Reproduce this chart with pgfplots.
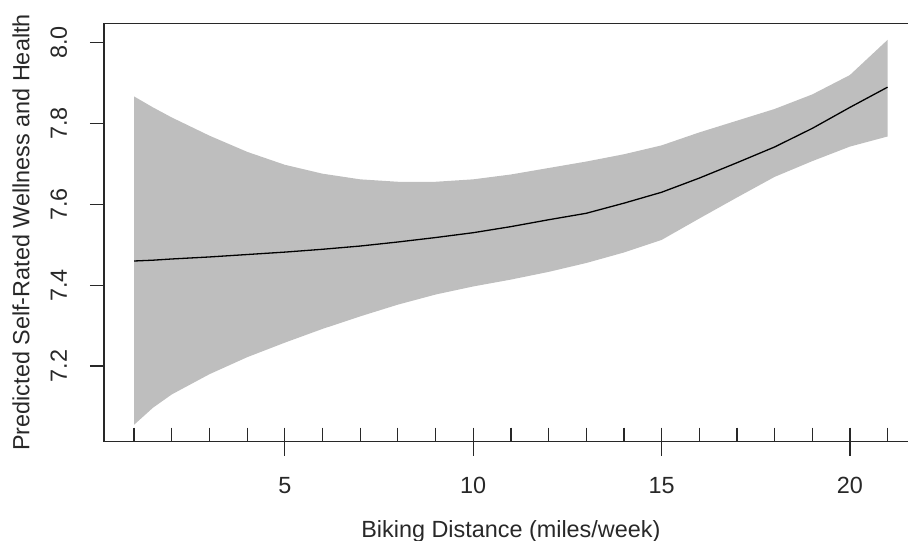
\documentclass[border=0pt]{standalone}
\usepackage{fontspec}
\setmainfont{Liberation Sans}
\usepackage{pgfplots}
\usepackage{pgfplotstable}
\pgfplotsset{compat=1.18}

\definecolor{bandgray}{RGB}{190,190,190}
\definecolor{axgray}{RGB}{40,40,40}

% predicted value
\pgfplotstableread{
x    fit
1    7.460
1.5  7.462
2    7.465
3    7.470
4    7.476
5    7.482
6    7.489
7    7.497
8    7.507
9    7.518
10   7.530
11   7.545
12   7.562
13   7.578
14   7.603
15   7.630
16   7.665
17   7.703
18   7.742
19   7.788
20   7.840
21   7.890
}\fitdata

% confidence band outline: upper bound left to right, lower bound right to left
\pgfplotstableread{
x    y
1    7.867
1.5  7.840
2    7.815
3    7.770
4    7.730
5    7.698
6    7.676
7    7.662
8    7.656
9    7.656
10   7.662
11   7.674
12   7.690
13   7.706
14   7.724
15   7.746
16   7.778
17   7.807
18   7.836
19   7.872
20   7.920
21   8.007
21   7.768
20   7.743
19   7.707
18   7.668
17   7.617
16   7.565
15   7.512
14   7.481
13   7.455
12   7.433
11   7.414
10   7.397
9    7.377
8    7.352
7    7.323
6    7.292
5    7.258
4    7.222
3    7.180
2    7.130
1.5  7.097
1    7.055
}\banddata

% rug: observed distances
\pgfplotstableread{
x    y
1    7.013
2    7.013
3    7.013
4    7.013
5    7.013
6    7.013
7    7.013
8    7.013
9    7.013
10   7.013
11   7.013
12   7.013
13   7.013
14   7.013
15   7.013
16   7.013
17   7.013
18   7.013
19   7.013
20   7.013
21   7.013
}\rugdata

\begin{document}
\fontsize{23.4}{28}\selectfont
\begin{tikzpicture}
\begin{axis}[
    scale only axis,
    width=813.7pt,
    height=418.4pt,
    xmin=0.2, xmax=21.8,
    ymin=7.013, ymax=8.048,
    clip=false,
    axis on top,
    axis line style={line width=1.3pt, color=axgray},
    xtick={5,10,15,20},
    ytick={7.2,7.4,7.6,7.8,8.0},
    tick align=outside,
    xtick pos=bottom,
    ytick pos=left,
    major tick length=14pt,
    tick style={line width=1.3pt, color=axgray},
    /pgf/number format/assume math mode=true,
    tick label style={font=\fontsize{23.4}{28}\selectfont, text=axgray},
    label style={font=\fontsize{23.4}{28}\selectfont, text=axgray},
    xticklabel style={anchor=base, yshift=-38pt},
    yticklabel style={anchor=base, rotate=90, yshift=23pt},
    yticklabel={\pgfmathprintnumber[fixed, fixed zerofill, precision=1]{\tick}},
    xlabel={Biking Distance (miles/week)},
    ylabel={Predicted Self-Rated Wellness and Health},
    xlabel style={at={([yshift=-95.3pt]axis description cs:0.5,0)}, anchor=base},
    ylabel style={at={([xshift=-74.5pt]axis description cs:0,0.5)}, anchor=base},
]
\coordinate (SW) at (rel axis cs:0,0);
\addplot[fill=bandgray, draw=none] table[x=x, y=y] {\banddata} -- cycle;
\addplot[black, line width=1.3pt] table[x=x, y=fit] {\fitdata};
\addplot[only marks, mark=|, mark size=7pt,
    mark options={line width=1.3pt, draw=axgray, yshift=7pt}] table[x=x, y=y] {\rugdata};
% y ticks drawn out to the left of the frame
\pgfplotsinvokeforeach{7.2,7.4,7.6,7.8,8.0}{
    \draw[line width=1.3pt, axgray] (axis cs:0.2,#1) -- ++(-14pt,0pt);
}
\end{axis}
\pgfresetboundingbox
\path[use as bounding box] ([xshift=-104pt,yshift=-99.3pt]SW) rectangle ([xshift=804pt,yshift=441.7pt]SW);
\end{tikzpicture}
\end{document}
